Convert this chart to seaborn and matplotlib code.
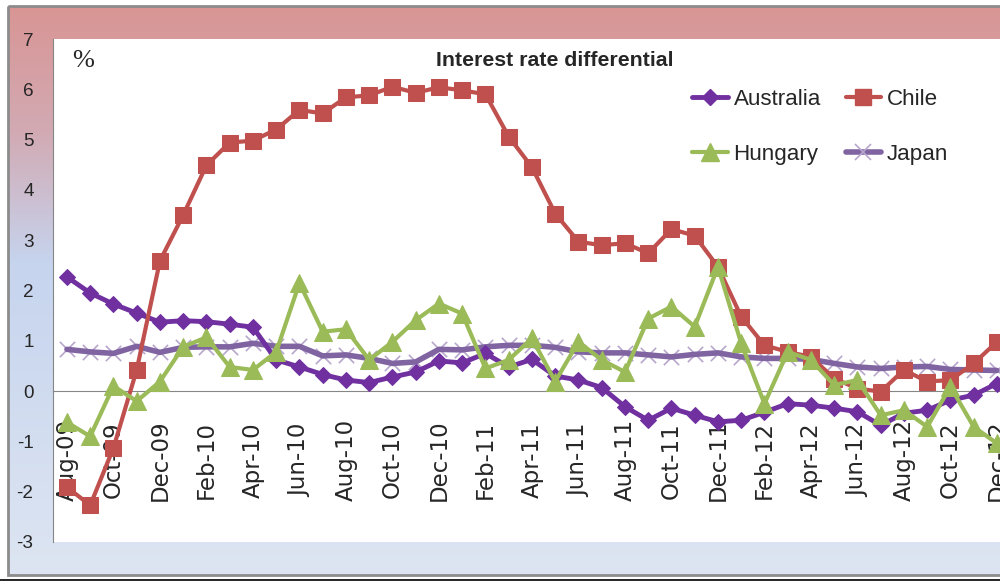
import numpy as np
import pandas as pd
import seaborn as sns
import matplotlib.pyplot as plt
from matplotlib import font_manager
from matplotlib.colors import LinearSegmentedColormap
from matplotlib.lines import Line2D
from matplotlib.patches import Rectangle

sns.set_style("white")

# narrow font if we have it, plain Liberation Sans otherwise
names = {f.name for f in font_manager.fontManager.ttflist}
if 'Liberation Sans Narrow' in names:
    narrow, k = 'Liberation Sans Narrow', 1.0
else:
    narrow, k = 'Liberation Sans', 0.85
plt.rcParams['font.family'] = [narrow, 'DejaVu Sans']
plt.rcParams['axes.unicode_minus'] = False

# monthly data, Aug-09 .. Dec-12
months = pd.date_range('2009-08-01', periods=41, freq='MS')
australia = [2.27, 1.95, 1.73, 1.55, 1.37,
             1.40, 1.38, 1.33, 1.27, 0.62, 0.48, 0.33, 0.22, 0.17, 0.28, 0.38, 0.60,
             0.56, 0.75, 0.48, 0.63, 0.30, 0.22, 0.07, -0.31, -0.58, -0.34, -0.48, -0.61,
             -0.58, -0.42, -0.25, -0.28, -0.34, -0.41, -0.68, -0.44, -0.38, -0.18, -0.08, 0.15]
chile = [-1.91, -2.27, -1.13, 0.42, 2.59,
         3.50, 4.49, 4.94, 4.98, 5.20, 5.59, 5.52, 5.84, 5.88, 6.05, 5.93, 6.04,
         5.98, 5.90, 5.06, 4.45, 3.53, 2.97, 2.90, 2.94, 2.74, 3.22, 3.09, 2.47,
         1.48, 0.91, 0.78, 0.68, 0.25, 0.05, -0.01, 0.42, 0.19, 0.22, 0.55, 0.98]
hungary = [-0.62, -0.90, 0.10, -0.20, 0.19,
           0.88, 1.07, 0.48, 0.42, 0.78, 2.15, 1.18, 1.23, 0.62, 0.98, 1.41, 1.74,
           1.54, 0.45, 0.62, 1.05, 0.19, 0.98, 0.62, 0.38, 1.44, 1.68, 1.28, 2.47,
           0.95, -0.25, 0.78, 0.62, 0.12, 0.22, -0.48, -0.38, -0.71, 0.09, -0.71, -1.04]
japan = [0.83, 0.78, 0.75, 0.89, 0.77,
         0.87, 0.88, 0.88, 0.95, 0.89, 0.89, 0.70, 0.72, 0.65, 0.55, 0.58, 0.83,
         0.82, 0.88, 0.91, 0.91, 0.87, 0.78, 0.76, 0.76, 0.72, 0.68, 0.73, 0.76,
         0.68, 0.65, 0.65, 0.63, 0.55, 0.48, 0.45, 0.48, 0.49, 0.43, 0.42, 0.41]

df = pd.DataFrame({'idx': np.arange(len(months)), 'Australia': australia,
                   'Chile': chile, 'Hungary': hungary, 'Japan': japan})

fig = plt.figure(figsize=(10, 5.81), dpi=100)

# gradient chart area behind everything
bg = fig.add_axes([0, 0, 1, 1], zorder=-5)
cmap = LinearSegmentedColormap.from_list(
    'bg', [(0, '#D99594'), (0.22, '#D2AAB3'), (0.45, '#C6D4EE'), (1, '#DDE5F2')])
grad = np.linspace(0, 1, 256).reshape(-1, 1)
bg.imshow(grad, cmap=cmap, aspect='auto', extent=[8, 1010, 575, 6])
bg.add_patch(Rectangle((8, 6), 1002, 569, fill=False, ec='#8C8C8C', lw=2))
bg.plot([0, 1000], [580, 580], color='black', lw=1.2)
bg.set_xlim(0, 1000)
bg.set_ylim(581, 0)
bg.axis('off')

ax = fig.add_axes([0.053, 1 - 542 / 581, 1.047, 503 / 581])
ax.set_facecolor('white')

sns.scatterplot(data=df, x='idx', y='Japan', marker='x', s=121, color='#B7A6CC',
                linewidth=1.2, ax=ax, zorder=2, legend=False)
sns.lineplot(data=df, x='idx', y='Japan', color='#8064A2', linewidth=4, ax=ax, zorder=3)
sns.lineplot(data=df, x='idx', y='Australia', color='#7030A0', linewidth=3.5,
             marker='D', markersize=8, markeredgecolor='#7030A0', ax=ax, zorder=4)
sns.lineplot(data=df, x='idx', y='Chile', color='#C0504D', linewidth=3,
             marker='s', markersize=11, markeredgecolor='#C0504D', ax=ax, zorder=5)
sns.lineplot(data=df, x='idx', y='Hungary', color='#9BBB59', linewidth=3,
             marker='^', markersize=13, markeredgecolor='#9BBB59', ax=ax, zorder=6)

ax.set_xlim(-0.6, -0.6 + 1047 / 23.25)
ax.set_ylim(-3, 7)
ax.set_yticks(range(-3, 8))
ax.set_xticks(df['idx'][::2])
ax.set_xticklabels(months[::2].strftime('%b-%y'))
ax.set_xlabel('')
ax.set_ylabel('')
for s in ['top', 'right']:
    ax.spines[s].set_visible(False)
ax.spines['left'].set_color('#868686')
ax.spines['bottom'].set_color('#868686')
ax.spines['bottom'].set_position(('data', 0))
ax.tick_params(axis='x', length=0, pad=49.7, labelsize=16.5)
ax.tick_params(axis='y', length=0, pad=14, labelsize=16 * k)
for t in ax.get_xticklabels():
    t.set_rotation(90)
    t.set_va('center')
    t.set_ha('center')
    t.set_family('DejaVu Sans')

handles = [
    Line2D([], [], color='#7030A0', lw=3.5, marker='D', ms=8),
    Line2D([], [], color='#9BBB59', lw=3, marker='^', ms=13),
    Line2D([], [], color='#C0504D', lw=3, marker='s', ms=11),
    Line2D([], [], color='#8064A2', lw=4, marker='x', ms=11, mec='#B7A6CC', mew=1.2),
]
fig.legend(handles, ['Australia', 'Hungary', 'Chile', 'Japan'], loc='upper left',
           bbox_to_anchor=(0.692, 1 - 89 / 581), ncol=2, frameon=False,
           fontsize=19 * k, handlelength=1.6, handletextpad=0.25, columnspacing=1.1,
           labelspacing=1.5, borderpad=0, borderaxespad=0)

fig.text(0.555, 1 - 60 / 581, 'Interest rate differential', ha='center', va='center',
         fontsize=18 * k, fontweight='bold')
fig.text(0.072, 1 - 61 / 581, '%', family='Liberation Serif', fontsize=19,
         ha='left', va='center')

fig.savefig('out.png', dpi=100)
